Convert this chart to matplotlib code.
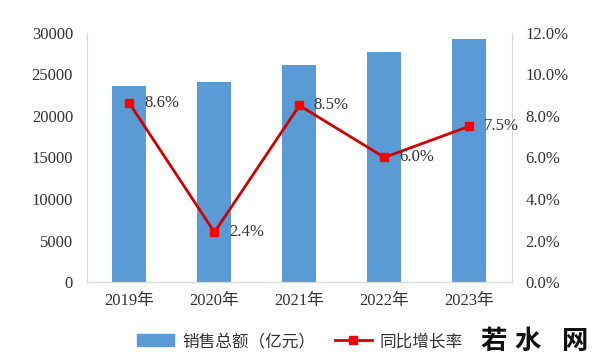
import numpy as np
import matplotlib.pyplot as plt
from matplotlib.lines import Line2D
from matplotlib.patches import Patch

# data
years = ["2019年", "2020年", "2021年", "2022年", "2023年"]
sales = [23650, 24130, 26150, 27700, 29280]
growth = [8.6, 2.4, 8.5, 6.0, 7.5]

fam = ["Liberation Serif", "Noto Sans CJK SC"]
plt.rcParams['font.family'] = fam

fig = plt.figure(figsize=(6, 3.64), dpi=100)
ax = fig.add_axes([0.145, 0.225, 0.708, 0.685])
x = np.arange(len(years))

ax.bar(x, sales, width=0.4, color="#5B9BD5", zorder=2)
ax.set_xlim(-0.5, len(years) - 0.5)
ax.set_ylim(0, 30000)
ax.set_yticks(np.arange(0, 30001, 5000))
ax.set_xticks(x)
ax.set_xticklabels(years)
ax.tick_params(axis="both", length=0, labelsize=12, colors="#333333")
ax.tick_params(axis="x", pad=8)
ax.tick_params(axis="y", pad=10)
ax.spines["top"].set_visible(False)
for s in ["left", "bottom", "right"]:
    ax.spines[s].set_color("#D9D9D9")

ax2 = ax.twinx()
ax2.plot(x, growth, color="#D00000", lw=2, marker="s", ms=6,
         mfc="#FF0000", mec="#FF0000", zorder=3)
ax2.set_ylim(0, 12)
ax2.set_yticks(np.arange(0, 12.1, 2))
ax2.set_yticklabels([f"{v:.1f}%" for v in np.arange(0, 12.1, 2)])
ax2.tick_params(axis="y", length=0, labelsize=12, colors="#333333", pad=10)
ax2.spines["top"].set_visible(False)
for s in ["left", "bottom", "right"]:
    ax2.spines[s].set_color("#D9D9D9")

for xi, g in zip(x, growth):
    ax2.text(xi + 0.17, g, f"{g:.1f}%", fontsize=12, color="#333333",
             va="center", ha="left")

handles = [Patch(color="#5B9BD5"),
           Line2D([], [], color="#D00000", lw=2, marker="s", ms=6,
                  mfc="#FF0000", mec="#FF0000")]
fig.legend(handles, ["销售总额（亿元）", "同比增长率"], loc="center",
           bbox_to_anchor=(0.5, 0.06), ncol=2, frameon=False, fontsize=12,
           handlelength=2.2, columnspacing=1.2, handletextpad=0.5,
           labelcolor="#333333")

# watermark
for cx, ch in zip([494, 528, 575], "若水网"):
    fig.text(cx / 600, 0.063, ch, fontsize=19, fontweight="bold",
             family="Noto Sans CJK SC", ha="center", va="center",
             color="#111111")

fig.savefig("out.png", dpi=100)
